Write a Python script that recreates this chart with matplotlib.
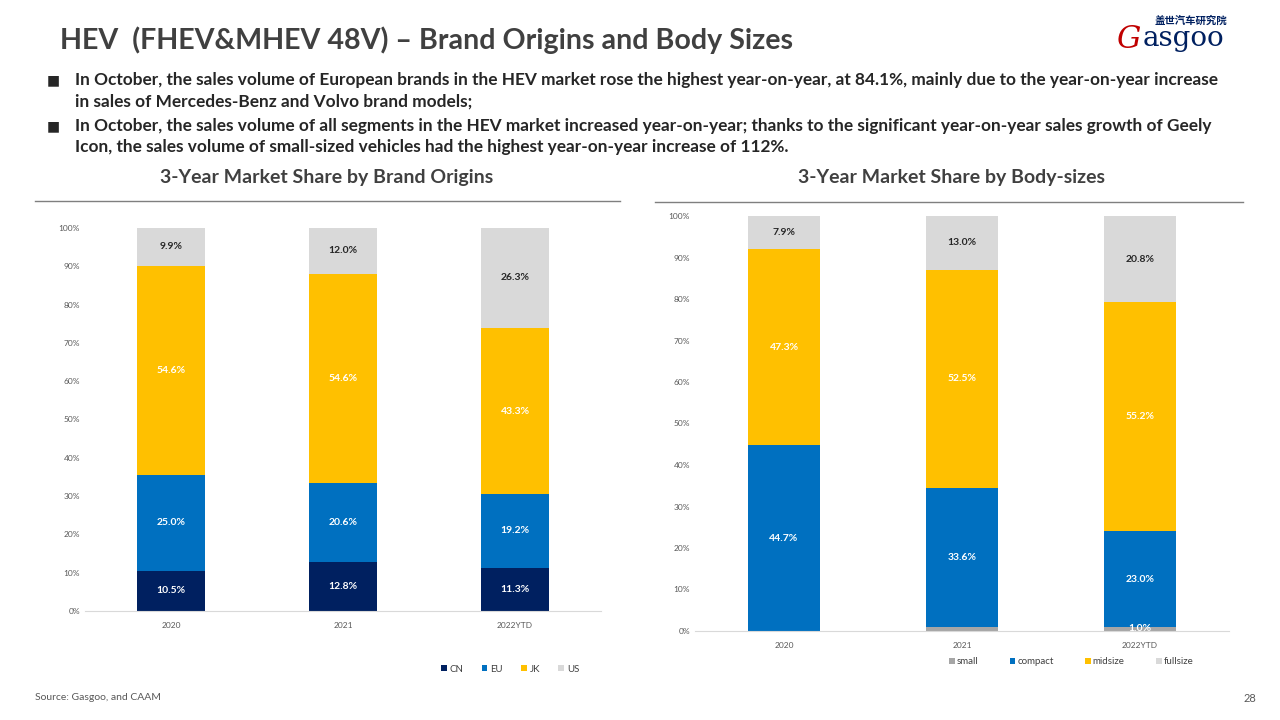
"""
HEV brand origins and body sizes - stacked share charts
"""

import matplotlib.pyplot as plt
from matplotlib.ticker import PercentFormatter
from matplotlib.lines import Line2D

plt.rcParams['font.family'] = ['Lato', 'Noto Sans CJK SC', 'DejaVu Sans']

# ---- data ----
years = ['2020', '2021', '2022YTD']

origin_names = ['CN', 'EU', 'JK', 'US']
cn = [10.5, 12.8, 11.3]
eu = [25.0, 20.6, 19.2]
jk = [54.6, 54.6, 43.3]
us = [9.9, 12.0, 26.3]

size_names = ['small', 'compact', 'midsize', 'fullsize']
small = [0.0, 0.9, 1.0]
compact = [44.7, 33.6, 23.0]
midsize = [47.3, 52.5, 55.2]
fullsize = [7.9, 13.0, 20.8]

bullets = [
    "In October, the sales volume of European brands in the HEV market rose the highest year-on-year, at 84.1%, mainly due to the year-on-year increase\nin sales of Mercedes-Benz and Volvo brand models;",
    "In October, the sales volume of all segments in the HEV market increased year-on-year; thanks to the significant year-on-year sales growth of Geely\nIcon, the sales volume of small-sized vehicles had the highest year-on-year increase of 112%.",
]

NAVY = '#002060'
BLUE = '#0070C0'
YELLOW = '#FFC000'
LGRAY = '#D9D9D9'
MGRAY = '#A6A6A6'
TXT = '#404040'
W, H = 1280, 720


def stacked(ax, series, names, colors, label_colors, hide_small=None):
    x = range(len(years))
    bottom = [0.0] * len(years)
    handles = []
    for vals, name, col, lc in zip(series, names, colors, label_colors):
        bars = ax.bar(x, vals, width=0.4, bottom=bottom, color=col, label=name)
        handles.append(bars)
        for i, v in enumerate(vals):
            if v <= 0 or (hide_small and name in hide_small and v < 1.0):
                continue
            ax.text(i, bottom[i] + v / 2, f"{v:.1f}%", ha='center', va='center',
                    fontsize=7.5, fontweight='bold', color=lc)
        bottom = [b + v for b, v in zip(bottom, vals)]
    ax.set_xlim(-0.5, 2.5)
    ax.set_ylim(0, 100)
    ax.set_yticks(range(0, 101, 10))
    ax.yaxis.set_major_formatter(PercentFormatter(decimals=0))
    ax.set_xticks(list(x))
    ax.set_xticklabels(years)
    ax.tick_params(axis='both', length=0, labelsize=6, colors='#595959')
    ax.tick_params(axis='x', pad=8)
    for s in ['top', 'right', 'left']:
        ax.spines[s].set_visible(False)
    ax.spines['bottom'].set_color(LGRAY)
    return handles


fig = plt.figure(figsize=(12.8, 7.2), dpi=100)

# title and bullets
fig.text(60 / W, 1 - 40 / H, "HEV  (FHEV&MHEV 48V) \u2013 Brand Origins and Body Sizes",
         fontsize=20.6, fontweight='bold', color=TXT, va='center', ha='left')
for yy, txt in zip([80, 126], bullets):
    fig.text(47 / W, 1 - yy / H, "\u25a0", fontsize=10, color='#262626', va='center',
             family=['DejaVu Sans'])
    fig.text(75 / W, 1 - (yy - 8) / H, txt, fontsize=12.4, fontweight='bold',
             color='#262626', va='top', ha='left', linespacing=1.42)

# logo
fig.text(1155 / W, 1 - 21 / H, "盖世汽车研究院", fontsize=7.5, color=NAVY, fontweight='bold',
         family=['Noto Sans CJK SC'], va='center')
fig.text(1116 / W, 1 - 39 / H, "G", fontsize=22, color='#C00000', style='italic',
         family=['DejaVu Serif'], va='center')
fig.text(1143 / W, 1 - 39 / H, "asgoo", fontsize=20, color=NAVY,
         family=['DejaVu Serif'], va='center')

# subtitles and separators
fig.text(327 / W, 1 - 178 / H, "3-Year Market Share by Brand Origins", fontsize=14,
         fontweight='bold', color=TXT, ha='center', va='center')
fig.text(951 / W, 1 - 178 / H, "3-Year Market Share by Body-sizes", fontsize=14,
         fontweight='bold', color=TXT, ha='center', va='center')
fig.add_artist(Line2D([35 / W, 620 / W], [1 - 201 / H] * 2, color='#7F7F7F', lw=1))
fig.add_artist(Line2D([655 / W, 1243 / W], [1 - 202 / H] * 2, color='#7F7F7F', lw=1))

# left chart
ax1 = fig.add_axes([85 / W, 1 - 611 / H, 516 / W, 383 / H])
h1 = stacked(ax1, [cn, eu, jk, us], origin_names, [NAVY, BLUE, YELLOW, LGRAY],
             ['white', 'white', 'white', '#262626'])
fig.legend(h1, origin_names, loc='center left', bbox_to_anchor=(441 / W, 1 - 669 / H), ncol=4,
           frameon=False, fontsize=7, handlelength=0.6, handleheight=0.6, borderpad=0,
           borderaxespad=0, handletextpad=0.3, columnspacing=1.85, labelcolor='#404040')

# right chart
ax2 = fig.add_axes([695 / W, 1 - 631 / H, 534 / W, 415 / H])
h2 = stacked(ax2, [small, compact, midsize, fullsize], size_names, [MGRAY, BLUE, YELLOW, LGRAY],
             ['white', 'white', 'white', '#262626'], hide_small=['small'])
fig.legend(h2, size_names, loc='center left', bbox_to_anchor=(949 / W, 1 - 662 / H), ncol=4,
           frameon=False, fontsize=7, handlelength=0.6, handleheight=0.6, borderpad=0,
           borderaxespad=0, handletextpad=0.2, columnspacing=3.2, labelcolor='#404040')

# footer
fig.text(35 / W, 1 - 698 / H, "Source: Gasgoo, and CAAM", fontsize=7.5, color='#595959', va='center')
fig.text(1256 / W, 1 - 698 / H, "28", fontsize=8, color='#595959', va='center', ha='right')

plt.savefig('out.png', dpi=100)
